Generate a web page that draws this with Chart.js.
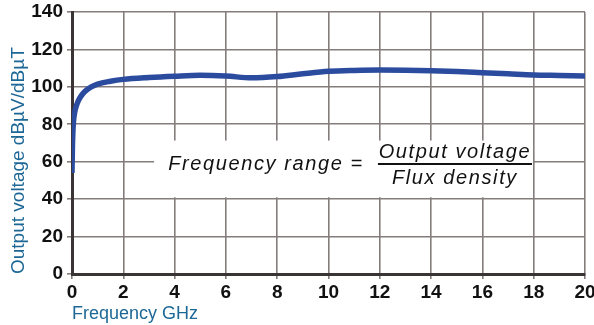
<!DOCTYPE html>
<html>
<head>
<meta charset="utf-8">
<script src="https://cdn.jsdelivr.net/npm/chart.js@4"></script>
<style>
  html, body { margin:0; padding:0; background:#fff; }
  #wrap { width:594px; height:325px; }
</style>
</head>
<body>
<div id="wrap"><canvas id="freqChart" width="594" height="325"></canvas></div>
<script>

// DATA
const freqGHz = [0, 0.02, 0.05, 0.1, 0.2, 0.3, 0.5, 0.75, 1, 1.5, 2, 3, 4, 5, 6, 7, 8, 9, 10, 11, 12, 13, 14, 15, 16, 17, 18, 19, 20];
const outputVoltage = [54, 70, 80, 86, 91, 94, 97.5, 100, 101.5, 103, 104, 105, 105.7, 106.2, 105.8, 104.8, 105.5, 107, 108.3, 108.8, 109, 108.9, 108.6, 108.2, 107.6, 107, 106.4, 106.1, 105.8];
const xTicks = [0, 2, 4, 6, 8, 10, 12, 14, 16, 18, 20];
const yTicks = [0, 20, 40, 60, 80, 100, 120, 140];

const axisTitleColor = "#1d6796";
const gridColor = "#857c7c";
const fontFamily = "'Liberation Sans', Arial, sans-serif";


// FORMULA LABEL DRAWN OVER THE GRID
const formulaPlugin = {
    id:"formula",
    afterDatasetsDraw(chart){

        const ctx = chart.ctx;
        const x = chart.scales.x;
        const y = chart.scales.y;

        const left = x.getPixelForValue(3.2);
        const right = x.getPixelForValue(17.97);
        const top = y.getPixelForValue(71.3);
        const bottom = y.getPixelForValue(41);

        ctx.save();
        ctx.fillStyle = "#fff";
        ctx.fillRect(left, top, right - left, bottom - top);

        ctx.fillStyle = "#111";
        ctx.font = "italic 20px " + fontFamily;
        ctx.letterSpacing = "1.6px";
        ctx.textBaseline = "middle";
        ctx.textAlign = "left";
        ctx.fillText("Frequency range =", x.getPixelForValue(3.75), y.getPixelForValue(58.8));

        const fracX = x.getPixelForValue(14.93);
        ctx.textAlign = "center";
        ctx.fillText("Output voltage", fracX, y.getPixelForValue(65.2));
        ctx.fillText("Flux density", fracX, y.getPixelForValue(51.3));

        ctx.strokeStyle = "#111";
        ctx.lineWidth = 2;
        ctx.beginPath();
        ctx.moveTo(fracX - 77, y.getPixelForValue(58.8));
        ctx.lineTo(fracX + 77, y.getPixelForValue(58.8));
        ctx.stroke();
        ctx.restore();

    }
};


// CHART
new Chart(

    document.getElementById("freqChart"),

    {
        type:"line",
        data:{
            datasets:[{
                data:freqGHz.map((f, i) => ({x:f, y:outputVoltage[i]})),
                borderColor:"#2b4b9e",
                borderWidth:5.5,
                pointRadius:0,
                cubicInterpolationMode:"monotone",
                fill:false
            }]
        },
        options:{
            responsive:false,
            animation:false,
            layout:{ padding:{ top:12, right:9, left:0, bottom:0 } },
            plugins:{
                legend:{ display:false },
                tooltip:{ enabled:false }
            },
            scales:{
                x:{
                    type:"linear",
                    min:0,
                    max:20,
                    afterBuildTicks:s => { s.ticks = xTicks.map(v => ({value:v})); },
                    afterFit:s => { s.height = 51; s.paddingLeft = 0; s.paddingRight = 0; },
                    grid:{ color:gridColor, lineWidth:1.6, tickLength:5, drawTicks:true },
                    border:{ color:"#3a3434", width:3 },
                    ticks:{ color:"#111", padding:2, maxRotation:0, font:{ family:fontFamily, size:19, weight:"bold" } },
                    title:{ display:true, text:"Frequency GHz", align:"start", color:axisTitleColor, padding:{ top:-3, bottom:0 }, font:{ family:fontFamily, size:18 } }
                },
                y:{
                    type:"linear",
                    min:0,
                    max:140,
                    afterBuildTicks:s => { s.ticks = yTicks.map(v => ({value:v})); },
                    afterFit:s => { s.width = 72; s.paddingTop = 0; s.paddingBottom = 0; },
                    grid:{ color:gridColor, lineWidth:1.6, tickLength:5, drawTicks:true },
                    border:{ color:"#3a3434", width:3 },
                    ticks:{ color:"#111", padding:4, font:{ family:fontFamily, size:19, weight:"bold" } },
                    title:{ display:true, text:"Output voltage dBµV/dBµT", align:"start", color:axisTitleColor, padding:{ top:7, bottom:0 }, font:{ family:fontFamily, size:19 } }
                }
            }
        },
        plugins:[formulaPlugin]
    }

);

</script>
</body>
</html>
